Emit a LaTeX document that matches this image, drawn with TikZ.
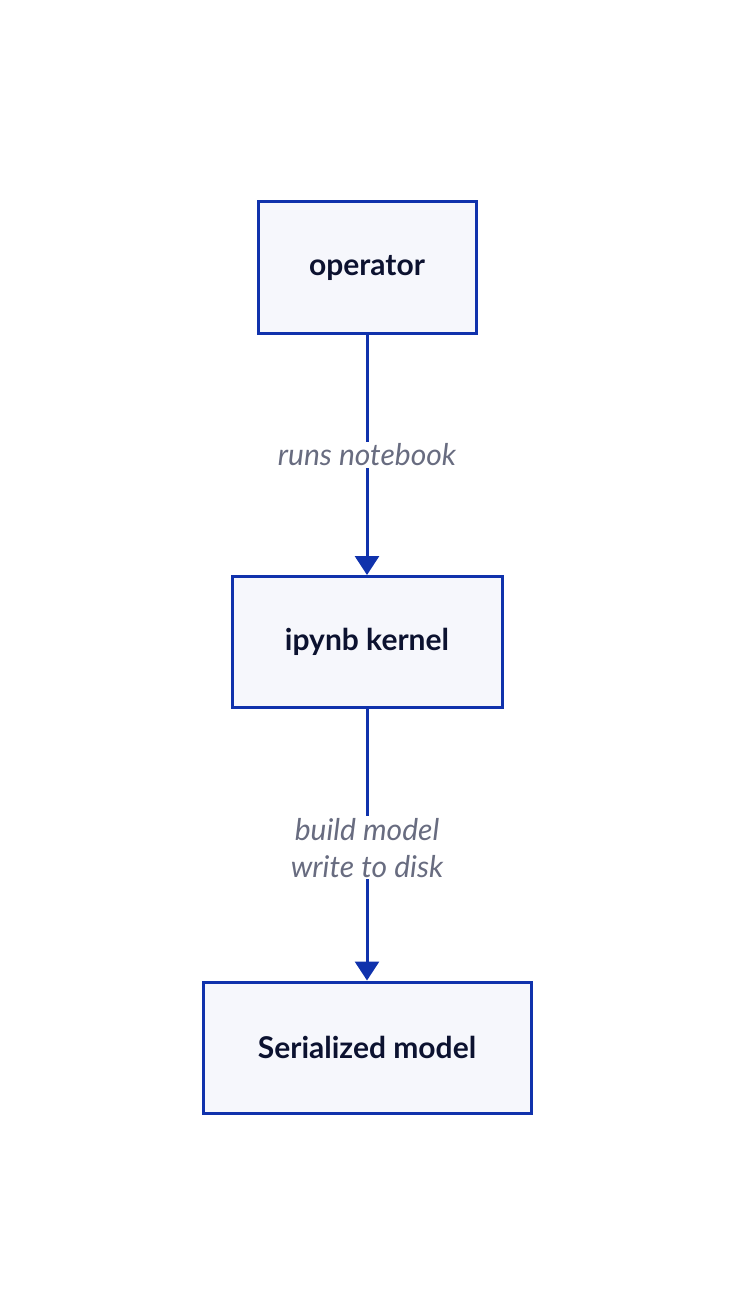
\documentclass[tikz,border=0pt]{standalone}
\usepackage{fontspec}
\setmainfont{Lato}
\usetikzlibrary{arrows.meta}
\definecolor{edgeblue}{RGB}{16,50,172}
\definecolor{boxfill}{RGB}{246,247,252}
\definecolor{txtdark}{RGB}{12,18,48}
\definecolor{lblgray}{RGB}{104,108,128}
\tikzset{
  box/.style={draw=edgeblue, line width=3bp, fill=boxfill, minimum height=131bp,
    text=txtdark, font=\fontsize{30bp}{36bp}\selectfont\bfseries, inner sep=0pt},
  flow/.style={draw=edgeblue, line width=3bp, -{Triangle[length=19bp,width=24bp]}},
  lbl/.style={fill=white, text=lblgray, font=\fontsize{30bp}{37bp}\selectfont\itshape,
    align=center, inner xsep=2bp, inner ysep=2bp}
}
\begin{document}
\begin{tikzpicture}[x=1bp,y=-1bp]
\useasboundingbox (0,0) rectangle (732,1316);
\node[box, minimum width=218bp] (op) at (367,267.5) {operator};
\node[box, minimum width=270bp] (ker) at (367,642) {ipynb kernel};
\node[box, minimum width=328bp] (ser) at (367,1047.5) {Serialized model};
\draw[flow] (op) -- node[lbl] {runs notebook} (ker);
\draw[flow] (ker) -- node[lbl, pos=0.5, yshift=-3bp] {build model\\write to disk} (ser);
\end{tikzpicture}
\end{document}
